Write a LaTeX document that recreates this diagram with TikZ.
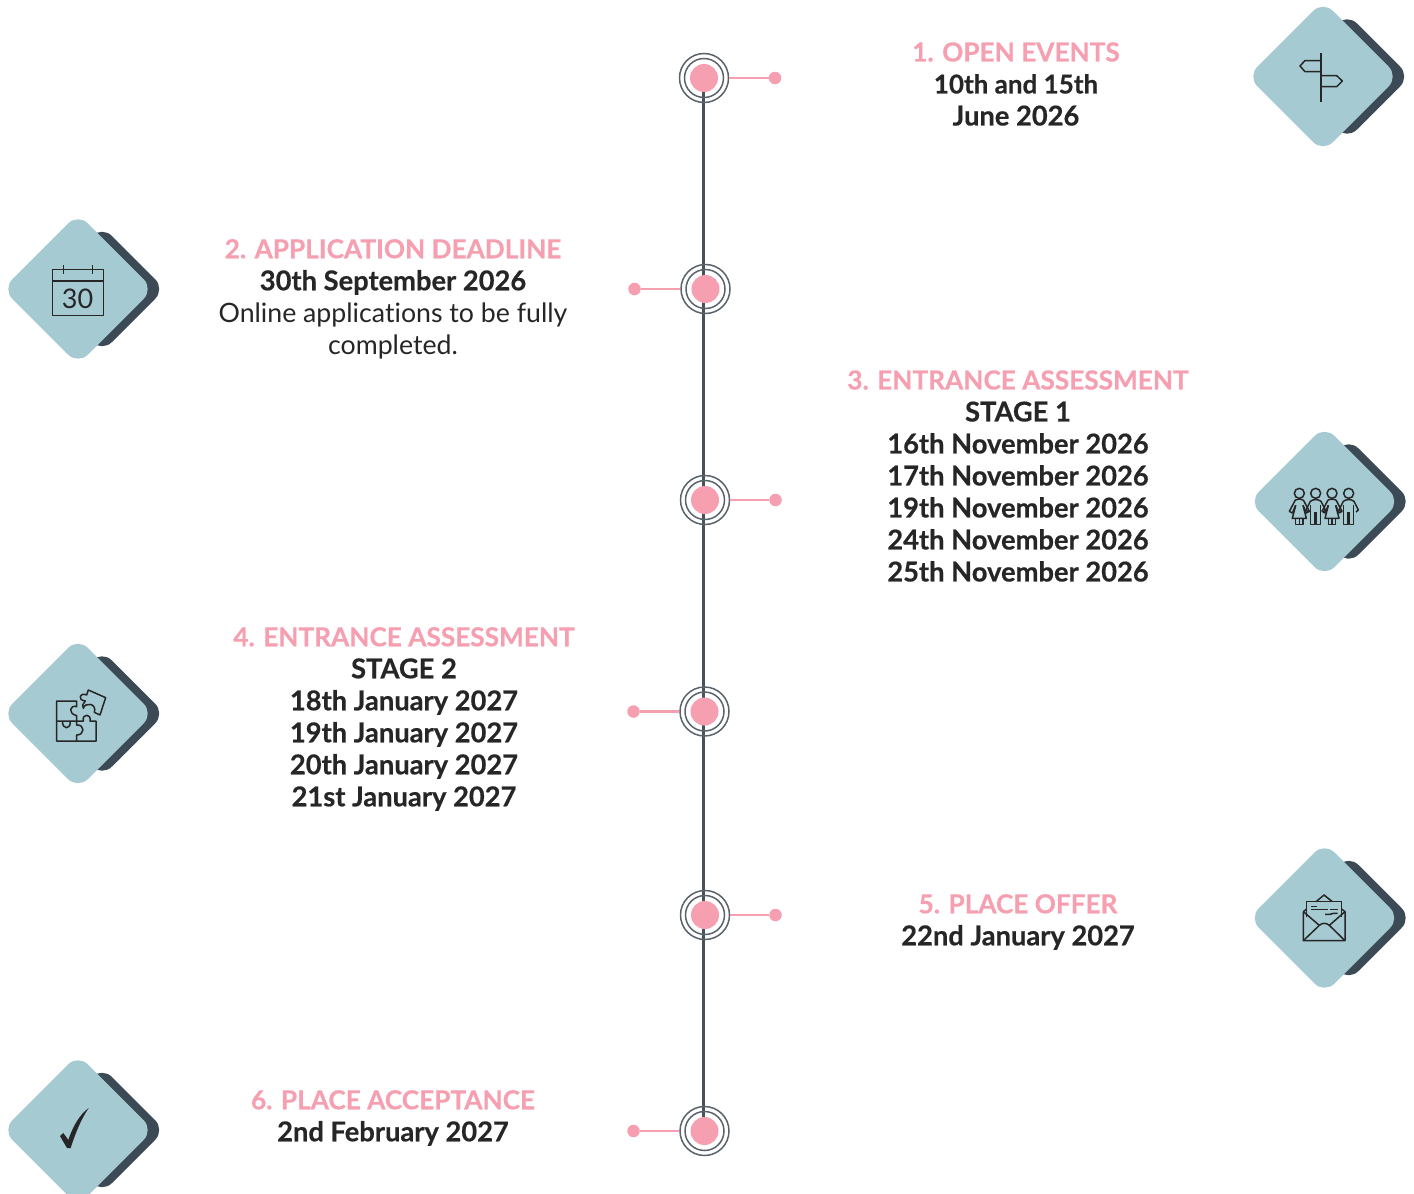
\documentclass[tikz,border=0pt]{standalone}
\usepackage{fontspec}
\setmainfont{Lato}[Ligatures=CommonOff,BoldFeatures={FakeBold=0.5}]
\definecolor{pinkc}{HTML}{F59FB0}
\definecolor{tealc}{HTML}{A5CAD2}
\definecolor{darkc}{HTML}{3B4A54}
\definecolor{spinec}{HTML}{47525C}
\definecolor{ringc}{HTML}{5A636B}
\definecolor{inkc}{HTML}{262626}
\newcommand{\womanfig}[1]{%
  \begin{scope}[shift={(#1,0)},iconline]
  \draw (0,70) circle (15);
  \draw (-12,90) -- (-30,124) -- (-21,129) -- (-11,106);
  \draw (12,90) -- (30,124) -- (21,129) -- (11,106);
  \draw (-12,90) .. controls (-4,86) and (4,86) .. (12,90);
  \draw (-11,106) -- (-21,145) -- (21,145) -- (11,106);
  \draw (-11,145) -- (-11,164) -- (11,164) -- (11,145) (0,145) -- (0,164);
  \end{scope}}
\newcommand{\manfig}[1]{%
  \begin{scope}[shift={(#1,0)},iconline]
  \draw (0,70) circle (15);
  \draw (-22,126) -- (-29,120) -- (-16,94) .. controls (-8,87) and (8,87) .. (16,94) -- (29,120) -- (22,126);
  \draw (-15,106) -- (-15,164) -- (-2,164) -- (-2,126) (2,126) -- (2,164) -- (15,164) -- (15,106);
  \end{scope}}
\tikzset{
  x=1pt,y=-1pt,
  iconline/.style={draw=inkc,line width=1.5pt,line join=round},
  backdiamond/.style={fill=darkc,rounded corners=14pt},
  frontdiamond/.style={fill=tealc,rounded corners=14pt},
  spine/.style={draw=spinec,line width=3pt},
  ring/.style={draw=ringc,line width=1.5pt,circle,inner sep=0pt,fill=none},
  core/.style={fill=pinkc,circle,inner sep=0pt,minimum size=28pt,draw=none},
  tip/.style={fill=pinkc,circle,inner sep=0pt,minimum size=12.5pt,draw=none},
  stem/.style={draw=pinkc,line width=2.6pt},
  info/.style={align=center,inner sep=0pt,text=inkc,font=\fontsize{27.3}{32}\selectfont\bfseries},
}
\newcommand{\hd}[1]{{\fontsize{26.2}{32}\selectfont\textcolor{pinkc}{#1}}}
\newcommand{\plain}[1]{{\fontsize{26.7}{32}\selectfont\mdseries #1}}
\newcommand{\diam}[2]{%
  \fill[backdiamond] (#1+87,#2) -- (#1+24,#2-63) -- (#1-39,#2) -- (#1+24,#2+63) -- cycle;
  \fill[frontdiamond] (#1+75.5,#2) -- (#1,#2-75.5) -- (#1-75.5,#2) -- (#1,#2+75.5) -- cycle;}
\newcommand{\stopmark}[3]{%
  \node[ring,minimum size=49pt] (o#3) at (#1,#2) {};
  \node[ring,minimum size=39pt] (i#3) at (#1,#2) {};
  \node[core] (c#3) at (#1,#2) {};}
\begin{document}
\begin{tikzpicture}
\useasboundingbox (0,0) rectangle (1414,1194);
\begin{scope}
\clip (0,0) rectangle (1414,1194);
\diam{1323}{76.5}
\diam{78}{289}
\diam{1324.5}{501.5}
\diam{78}{713.5}
\diam{1324.5}{918}
\diam{78}{1130}
\end{scope}

\coordinate (top) at (703.5,78);
\coordinate (bot) at (703.5,1131);
\draw[spine] (top) -- (bot);

\stopmark{704}{78}{1}
\stopmark{705.5}{289}{2}
\stopmark{705}{500}{3}
\stopmark{704.5}{711.5}{4}
\stopmark{705}{915}{5}
\stopmark{704.5}{1131}{6}

\node[tip] (t1) at (775,78) {};
\node[tip] (t2) at (634.5,289) {};
\node[tip] (t3) at (775.5,500) {};
\node[tip] (t4) at (633.5,711.5) {};
\node[tip] (t5) at (775.5,915) {};
\node[tip] (t6) at (633.5,1131) {};
\draw[stem] (o1) -- (t1);
\draw[stem] (o2) -- (t2);
\draw[stem] (o3) -- (t3);
\draw[stem] (o4) -- (t4);
\draw[stem] (o5) -- (t5);
\draw[stem] (o6) -- (t6);

\node[info] (n1) at (1016,84) {\hd{1. OPEN EVENTS}\\{\fontsize{26}{32}\selectfont 10th and 15th}\\June 2026};
\node[info] (n2) at (393,299) {\hd{2. APPLICATION DEADLINE}\\30th September 2026\\\plain{Online applications to be fully}\\\plain{completed.}};
\node[info] (n3) at (1018,476) {\hd{3. ENTRANCE ASSESSMENT}\\STAGE 1\\16th November 2026\\17th November 2026\\19th November 2026\\24th November 2026\\25th November 2026};
\node[info] (n4) at (404,719) {\hd{4. ENTRANCE ASSESSMENT}\\STAGE 2\\18th January 2027\\19th January 2027\\20th January 2027\\21st January 2027};
\node[info] (n5) at (1018,922) {\hd{5. PLACE OFFER}\\22nd January 2027};
\node[info] (n6) at (393,1118) {\hd{6. PLACE ACCEPTANCE}\\2nd February 2027};

% signpost
\begin{scope}[iconline]
\draw (1321,53) -- (1321,102);
\draw (1321,60.5) -- (1305,60.5) -- (1300,66) -- (1305,71.7) -- (1321,71.7);
\draw (1321,75.7) -- (1336.7,75.7) -- (1342.3,81) -- (1336.7,86.7) -- (1321,86.7);
\end{scope}
% calendar
\begin{scope}[iconline]
\draw (52.7,269.3) rectangle (103.3,315.7);
\draw (52.7,281) -- (103.3,281);
\draw (63.3,265) -- (63.3,274.3);
\draw (92.3,265) -- (92.3,274.3);
\end{scope}
\node[inner sep=0pt,text=inkc,font=\fontsize{27}{27}\selectfont] (cal) at (77.5,298.5) {30};
% people
\begin{scope}[shift={(1270,470)},scale=1/3]
\womanfig{88}
\manfig{137}
\womanfig{186}
\manfig{236}
\end{scope}
% puzzle
\begin{scope}[shift={(40,675)},scale=1/3,iconline]
\draw (50,138) -- (50,78) -- (110,78) -- (110,95) .. controls (90,88) and (82,115) .. (110,122) -- (110,138);
\draw (50,138) -- (50,198) -- (168,198) -- (168,138) -- (150,138) .. controls (155,115) and (125,115) .. (130,138) -- (50,138);
\draw (68,138) .. controls (65,165) and (95,165) .. (90,138);
\draw (110,138) -- (110,150) .. controls (135,148) and (135,180) .. (110,180) -- (110,198);
\draw (145,45) -- (197,68) -- (180,120) -- (163,112) .. controls (172,85) and (135,80) .. (130,100) -- (128,90) -- (136,78) .. controls (110,75) and (120,50) .. (140,60) -- cycle;
\end{scope}
% envelope
\begin{scope}[shift={(1285,880)},scale=1/3,iconline]
\draw (55,95) -- (55,182) -- (180,182) -- (180,95) -- (170,87);
\draw (55,95) -- (65,87);
\draw (65,112) -- (65,65) -- (170,65) -- (170,112);
\draw (93,65) -- (117,45) -- (142,65);
\draw (55,95) -- (103,136) .. controls (112,128) and (124,128) .. (133,136) -- (180,95);
\draw (55,182) -- (103,136) (180,182) -- (133,136);
\draw (78,79) -- (95,79) (78,88) -- (130,88) (136,88) -- (158,88);
\draw (120,103) -- (135,103) -- (145,100) -- (158,100);
\end{scope}
% check
\begin{scope}[shift={(0,1050)},scale=1/3]
\fill[inkc] (180,258) -- (190,249) -- (205,270) .. controls (218,230) and (238,195) .. (266,174) .. controls (243,208) and (226,250) .. (212,294) -- (201,294) -- cycle;
\end{scope}
\end{tikzpicture}
\end{document}
